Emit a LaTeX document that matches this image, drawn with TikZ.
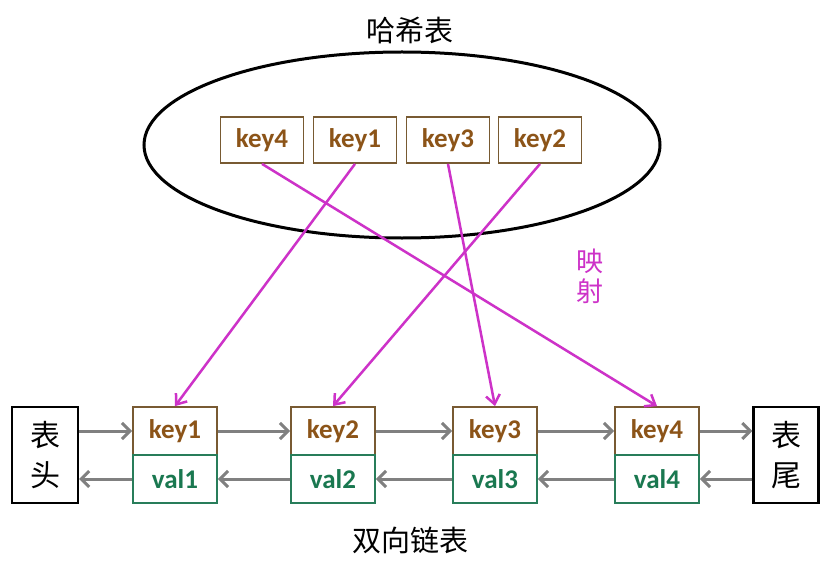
\documentclass[tikz,border=0pt]{standalone}
\usepackage{fontspec}
\setmainfont{Carlito}
\newfontfamily\cjk{Noto Sans CJK SC}
\usetikzlibrary{shapes.geometric,arrows.meta}
\definecolor{keybrown}{RGB}{140,84,24}
\definecolor{keyborder}{RGB}{120,90,50}
\definecolor{valgreen}{RGB}{26,120,80}
\definecolor{valborder}{RGB}{40,125,90}
\definecolor{mapcol}{RGB}{205,50,200}
\definecolor{linkgray}{RGB}{128,128,128}
\tikzset{
  keybox/.style={draw=keyborder,line width=1.8pt,fill=white,minimum width=83pt,minimum height=46pt,inner sep=0pt,font=\fontsize{27}{30}\selectfont\bfseries,text=keybrown},
  lkey/.style={keybox,minimum width=84pt,minimum height=48pt},
  lval/.style={draw=valborder,line width=1.8pt,minimum width=84pt,minimum height=48pt,inner sep=0pt,font=\fontsize{27}{30}\selectfont\bfseries,text=valgreen},
  endbox/.style={draw=black,line width=2.2pt,minimum height=96pt,inner sep=0pt,font=\cjk\fontsize{30}{40}\selectfont,align=center},
  link/.style={draw=linkgray,line width=3pt,-{Straight Barb[length=8pt,width=16pt]}},
  maparrow/.style={draw=mapcol,line width=2.5pt,-{Straight Barb[length=9pt,width=14pt]}},
  cjklabel/.style={font=\cjk\fontsize{29}{32}\selectfont}
}
\begin{document}
\begin{tikzpicture}[x=1pt,y=-1pt]
\useasboundingbox[fill=white] (0,0) rectangle (834,564);
\node[cjklabel] (title) at (410,30) {哈希表};
\node[draw,ellipse,line width=3pt,minimum width=516pt,minimum height=186pt] (hash) at (402,145) {};
\node[keybox] (hk4) at (262,140) {key4};
\node[keybox] (hk1) at (355,140) {key1};
\node[keybox] (hk3) at (448,140) {key3};
\node[keybox] (hk2) at (540,140) {key2};
\node[lkey] (k1) at (175,431) {key1};
\node[lval] (v1) at (175,479) {val1};
\node[lkey] (k2) at (333,431) {key2};
\node[lval] (v2) at (333,479) {val2};
\node[lkey] (k3) at (495,431) {key3};
\node[lval] (v3) at (495,479) {val3};
\node[lkey] (k4) at (657,431) {key4};
\node[lval] (v4) at (657,479) {val4};
\node[endbox,minimum width=66pt] (head) at (45,455) {表\\头};
\node[endbox,minimum width=65pt] (tail) at (786,455) {表\\尾};
\node[text=mapcol,align=center,font=\cjk\fontsize{27}{30}\selectfont] (map) at (590,276) {映\\射};
\node[cjklabel] (dll) at (410,540) {双向链表};
% forward links
\draw[link] (head.east |- k1.west) -- (k1.west);
\draw[link] (k1.east) -- (k2.west);
\draw[link] (k2.east) -- (k3.west);
\draw[link] (k3.east) -- (k4.west);
\draw[link] (k4.east) -- (tail.west |- k4.east);
% backward links
\draw[link] (tail.west |- v4.east) -- (v4.east);
\draw[link] (v4.west) -- (v3.east);
\draw[link] (v3.west) -- (v2.east);
\draw[link] (v2.west) -- (v1.east);
\draw[link] (v1.west) -- (head.east |- v1.west);
% mapping
\draw[maparrow] (hk4.south) -- (k4.north);
\draw[maparrow] (hk1.south) -- (k1.north);
\draw[maparrow] (hk3.south) -- (k3.north);
\draw[maparrow] (hk2.south) -- (k2.north);
\end{tikzpicture}
\end{document}
